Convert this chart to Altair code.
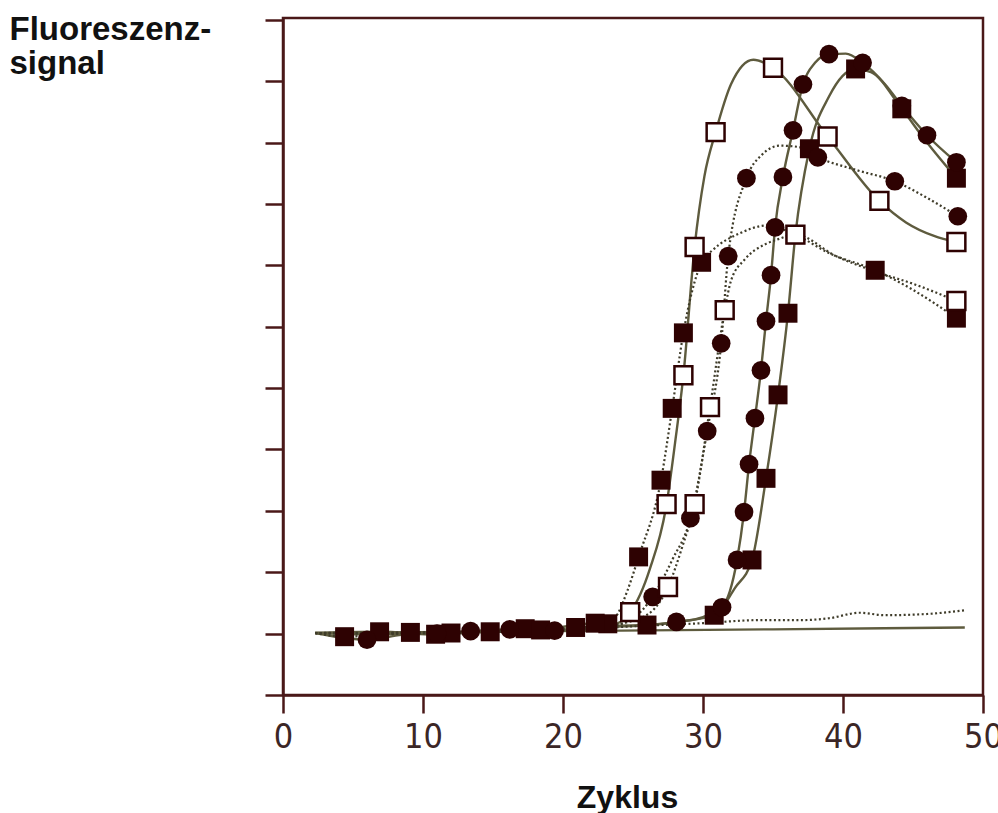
import altair as alt
import pandas as pd

# Amplification curves: cycle number, fluorescence signal (axis units), marker code
# marker codes: "" = none, "s" = filled square, "o" = open square, "c" = filled circle

a1_cycle = [2.3, 6, 10, 14, 18, 21, 23.3, 24.8, 26.2, 27.4, 28.0, 28.6, 29.4, 30.1, 30.9, 32.0, 33.6, 35.0, 38.9, 42.6, 44.5, 46.5, 48.1]
a1_value = [1.01, 0.99, 1.0, 1.03, 1.05, 1.08, 1.12, 1.35, 2.05, 3.11, 4.1, 5.21, 7.3, 8.45, 9.17, 9.95, 10.35, 10.22, 9.1, 8.05, 7.7, 7.48, 7.38]
a1_mark = ["", "", "", "", "", "", "", "o", "", "o", "", "o", "o", "", "o", "", "", "o", "o", "o", "", "", "o"]

a2_cycle = [2.3, 4.4, 6.5, 9.1, 12.0, 14.8, 17.3, 20.9, 23.2, 23.9, 24.6, 25.4, 27.0, 27.8, 28.6, 29.9, 30.7, 32.6, 34.6, 36.6, 39.0, 42.3, 45.0, 48.1]
a2_value = [1.01, 0.95, 0.98, 1.02, 1.01, 1.03, 1.08, 1.1, 1.16, 1.32, 1.7, 2.25, 3.5, 4.67, 5.9, 7.05, 7.25, 7.52, 7.65, 7.5, 7.2, 6.92, 6.6, 6.14]
a2_mark = ["", "s", "", "s", "s", "s", "s", "s", "s", "", "", "s", "s", "s", "s", "s", "", "", "", "", "", "s", "", "s"]

b1_cycle = [2.3, 8, 15, 22, 25.5, 27.5, 28.5, 29.4, 30.5, 31.55, 32.0, 33.0, 34.5, 35.3, 36.6, 39.5, 42.3, 45.0, 48.1]
b1_value = [1.01, 1.0, 1.04, 1.1, 1.25, 1.76, 2.4, 3.11, 4.69, 6.27, 6.75, 7.1, 7.35, 7.42, 7.5, 7.15, 6.9, 6.7, 6.42]
b1_mark = ["", "", "", "", "", "o", "", "o", "o", "o", "", "", "", "", "o", "", "", "", "o"]

b2_cycle = [2.3, 7, 13, 19, 23, 25.0, 26.4, 27.8, 29.1, 30.3, 31.3, 31.8, 33.1, 34.2, 35.5, 36.8, 38.2, 41.0, 43.7, 46.0, 48.2]
b2_value = [1.01, 1.0, 1.03, 1.06, 1.1, 1.25, 1.6, 2.2, 2.88, 4.3, 5.73, 7.15, 8.42, 8.8, 8.95, 8.93, 8.76, 8.55, 8.37, 8.1, 7.8]
b2_mark = ["", "", "", "", "", "", "c", "", "c", "c", "c", "c", "c", "", "", "", "c", "", "c", "", "c"]

c_cycle = [2.3, 6.0, 8.5, 11.0, 13.4, 16.2, 19.4, 23.0, 28.1, 30.0, 31.36, 32.43, 32.93, 33.29, 33.71, 34.14, 34.5, 34.86, 35.15, 35.71, 36.43, 37.14, 38.0, 39.0, 40.2, 41.4, 43.0, 44.2, 46.0, 48.1]
c_value = [1.01, 0.9, 0.98, 1.0, 1.04, 1.07, 1.05, 1.1, 1.19, 1.27, 1.43, 2.2, 2.98, 3.76, 4.51, 5.29, 6.09, 6.84, 7.62, 8.44, 9.2, 9.95, 10.3, 10.44, 10.45, 10.3, 9.95, 9.6, 9.12, 8.68]
c_mark = ["", "c", "", "c", "c", "c", "c", "", "c", "", "c", "c", "c", "c", "c", "c", "c", "c", "c", "c", "c", "c", "", "c", "", "c", "", "c", "c", "c"]

d_cycle = [2.3, 6.9, 10.9, 14, 18.4, 22.3, 24.0, 26.0, 28.5, 30.8, 32.3, 33.5, 34.5, 35.36, 36.07, 36.6, 37.6, 39.0, 40.9, 42.0, 44.2, 46.0, 48.1]
d_value = [1.01, 1.03, 0.99, 1.02, 1.06, 1.17, 1.13, 1.14, 1.2, 1.3, 1.75, 2.2, 3.53, 4.89, 6.22, 7.5, 8.9, 9.75, 10.2, 10.15, 9.55, 9.0, 8.42]
d_mark = ["", "s", "s", "", "s", "s", "", "s", "", "s", "", "s", "s", "s", "s", "s", "s", "", "s", "", "s", "", "s"]

# no-template controls (flat lines, no markers)
n1_cycle = [2.3, 10, 20, 25, 30, 34, 37, 39, 41.2, 43, 46, 48.7]
n1_value = [1.01, 1.02, 1.05, 1.12, 1.17, 1.22, 1.22, 1.25, 1.34, 1.3, 1.32, 1.38]
n1_mark = [""] * len(n1_cycle)

n2_cycle = [2.3, 20, 35, 48.7]
n2_value = [1.01, 1.04, 1.07, 1.1]
n2_mark = [""] * len(n2_cycle)

series = [
    ("A1", "solid", a1_cycle, a1_value, a1_mark),
    ("A2", "dotted", a2_cycle, a2_value, a2_mark),
    ("B1", "dotted", b1_cycle, b1_value, b1_mark),
    ("B2", "dotted", b2_cycle, b2_value, b2_mark),
    ("C", "solid", c_cycle, c_value, c_mark),
    ("D", "solid", d_cycle, d_value, d_mark),
    ("N1", "dotted", n1_cycle, n1_value, n1_mark),
    ("N2", "solid", n2_cycle, n2_value, n2_mark),
]

rows = []
for name, style, cyc, val, mk in series:
    for i, (c, v, m) in enumerate(zip(cyc, val, mk)):
        rows.append({"series": name, "style": style, "cycle": c, "value": v, "mark": m, "idx": i})
df = pd.DataFrame(rows)

FRAME = "#4a1818"
MARKER = "#2e0202"
LINE = "#5e5b3e"
DOT = "#3f3c2a"
LABEL_FONT = "Liberation Sans Narrow, DejaVu Sans Condensed, Arial Narrow, sans-serif"
TITLE_FONT = "Liberation Sans, Arial, Helvetica, sans-serif"

x_enc = alt.X(
    "cycle:Q",
    scale=alt.Scale(domain=[0, 50], nice=False, zero=False),
    axis=alt.Axis(
        values=[0, 10, 20, 30, 40, 50],
        grid=False,
        title="Zyklus",
        tickSize=18,
        tickWidth=2.5,
        tickColor=FRAME,
        domainColor=FRAME,
        domainWidth=2.5,
        labelFont=LABEL_FONT,
        labelFontSize=34,
        labelColor="#3b2626",
        labelPadding=7,
        labelFlush=False,
        titleFont=TITLE_FONT,
        titleFontSize=32,
        titleFontWeight="bold",
        titleColor="#111111",
        titleX=344,
        titleY=112,
        titleBaseline="alphabetic",
    ),
)

y_enc = alt.Y(
    "value:Q",
    scale=alt.Scale(domain=[0, 11.03], nice=False, zero=False),
    axis=alt.Axis(
        values=list(range(12)),
        labels=False,
        grid=False,
        title=["Fluoreszenz-", "signal"],
        tickSize=18,
        tickWidth=2.5,
        tickColor=FRAME,
        domainColor=FRAME,
        domainWidth=2.5,
        titleFont=TITLE_FONT,
        titleFontSize=33,
        titleFontWeight="bold",
        titleColor="#111111",
        titleAngle=0,
        titleAlign="left",
        titleBaseline="top",
        titleLineHeight=34,
        titleX=-274,
        titleY=-5,
    ),
)

base = alt.Chart(df)

solid_lines = base.transform_filter(alt.datum.style == "solid").mark_line(
    interpolate="monotone", color=LINE, strokeWidth=2.4
).encode(x=x_enc, y=y_enc, detail="series:N", order="idx:Q")

dotted_lines = base.transform_filter(alt.datum.style == "dotted").mark_line(
    interpolate="monotone", color=DOT, strokeWidth=2.2, strokeDash=[2, 2.5]
).encode(x=x_enc, y=y_enc, detail="series:N", order="idx:Q")

filled_squares = base.transform_filter(alt.datum.mark == "s").mark_square(
    size=360, color=MARKER, opacity=1, filled=True
).encode(x=x_enc, y=y_enc)

circles = base.transform_filter(alt.datum.mark == "c").mark_circle(
    size=350, color=MARKER, opacity=1
).encode(x=x_enc, y=y_enc)

open_squares = base.transform_filter(alt.datum.mark == "o").mark_square(
    size=320, filled=True, fill="white", stroke=MARKER, strokeWidth=2.5, opacity=1
).encode(x=x_enc, y=y_enc)

chart = (
    alt.layer(solid_lines, dotted_lines, filled_squares, circles, open_squares)
    .properties(
        width=700,
        height=677,
        autosize=alt.AutoSizeParams(type="none"),
        padding={"left": 283, "top": 18, "right": 15, "bottom": 118},
        background="white",
    )
    .configure_view(stroke=FRAME, strokeWidth=2.5)
)

chart.save("out.html", embed_options={"renderer": "svg", "actions": False})
